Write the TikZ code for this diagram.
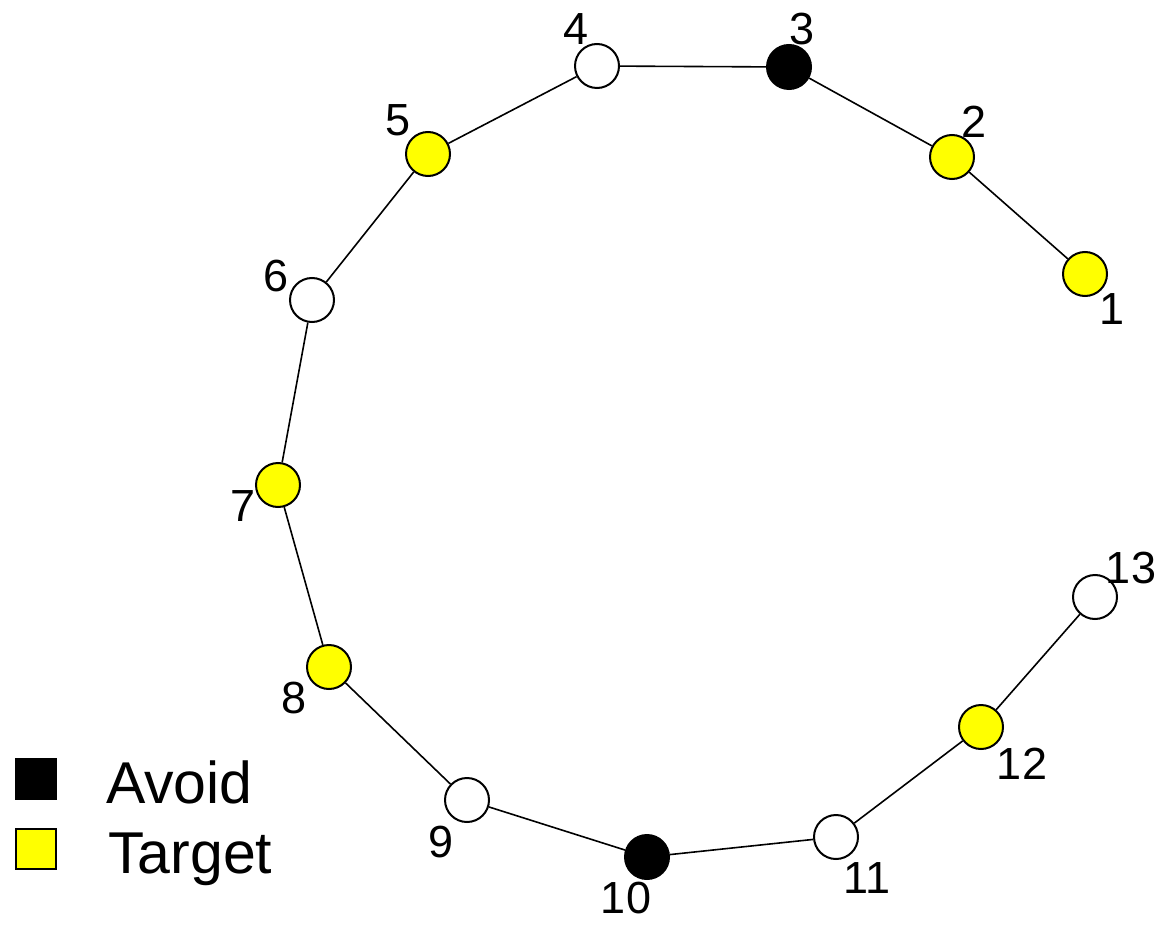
\documentclass[tikz,border=0pt]{standalone}
\usepackage{fontspec}
\setmainfont{Liberation Sans}
\definecolor{vyellow}{RGB}{255,255,0}
\begin{document}
\begin{tikzpicture}[x=1pt,y=-1pt,
  vert/.style={circle,draw=black,line width=2pt,minimum size=44pt,inner sep=0pt},
  avoidv/.style={vert,fill=black},
  targetv/.style={vert,fill=vyellow},
  plainv/.style={vert,fill=white},
  lbl/.style={inner sep=0pt,font=\fontsize{45}{46}\selectfont},
  edge/.style={line width=1.6pt,black},
  legbox/.style={draw=black,line width=2pt,minimum size=40pt,inner sep=0pt},
  legtext/.style={inner sep=0pt,anchor=base west,font=\fontsize{59}{62}\selectfont}]
\useasboundingbox (0,0) rectangle (1169,925);
% vertices
\node[targetv] (n1) at (1085,274) {};
\node[targetv] (n2) at (952,157) {};
\node[avoidv] (n3) at (789,67) {};
\node[plainv] (n4) at (597,66) {};
\node[targetv] (n5) at (428,154) {};
\node[plainv] (n6) at (312,300) {};
\node[targetv] (n7) at (278,485) {};
\node[targetv] (n8) at (329,667) {};
\node[plainv] (n9) at (467,800) {};
\node[avoidv] (n10) at (647,857) {};
\node[plainv] (n11) at (836,837) {};
\node[targetv] (n12) at (981,727) {};
\node[plainv] (n13) at (1095,597) {};
% edges
\draw[edge] (n1) -- (n2);
\draw[edge] (n2) -- (n3);
\draw[edge] (n3) -- (n4);
\draw[edge] (n4) -- (n5);
\draw[edge] (n5) -- (n6);
\draw[edge] (n6) -- (n7);
\draw[edge] (n7) -- (n8);
\draw[edge] (n8) -- (n9);
\draw[edge] (n9) -- (n10);
\draw[edge] (n10) -- (n11);
\draw[edge] (n11) -- (n12);
\draw[edge] (n12) -- (n13);
% labels
\node[lbl] (l1) at (1112,309) {1};
\node[lbl] (l2) at (974,122) {2};
\node[lbl] (l3) at (802,29) {3};
\node[lbl] (l4) at (576,29) {4};
\node[lbl] (l5) at (398,120) {5};
\node[lbl] (l6) at (276,276) {6};
\node[lbl] (l7) at (243,506) {7};
\node[lbl] (l8) at (294,698) {8};
\node[lbl] (l9) at (441,842) {9};
\node[lbl] (l10) at (626,898) {10};
\node[lbl] (l11) at (867,878) {11};
\node[lbl] (l12) at (1022,764) {12};
\node[lbl] (l13) at (1131,568) {13};
% legend
\node[legbox,fill=black] (kavoid) at (35.5,778.5) {};
\node[legbox,fill=vyellow] (ktarget) at (35.5,849) {};
\node[legtext] (tavoid) at (106,803) {Avoid};
\node[legtext] (ttarget) at (108,873) {Target};
\end{tikzpicture}
\end{document}
